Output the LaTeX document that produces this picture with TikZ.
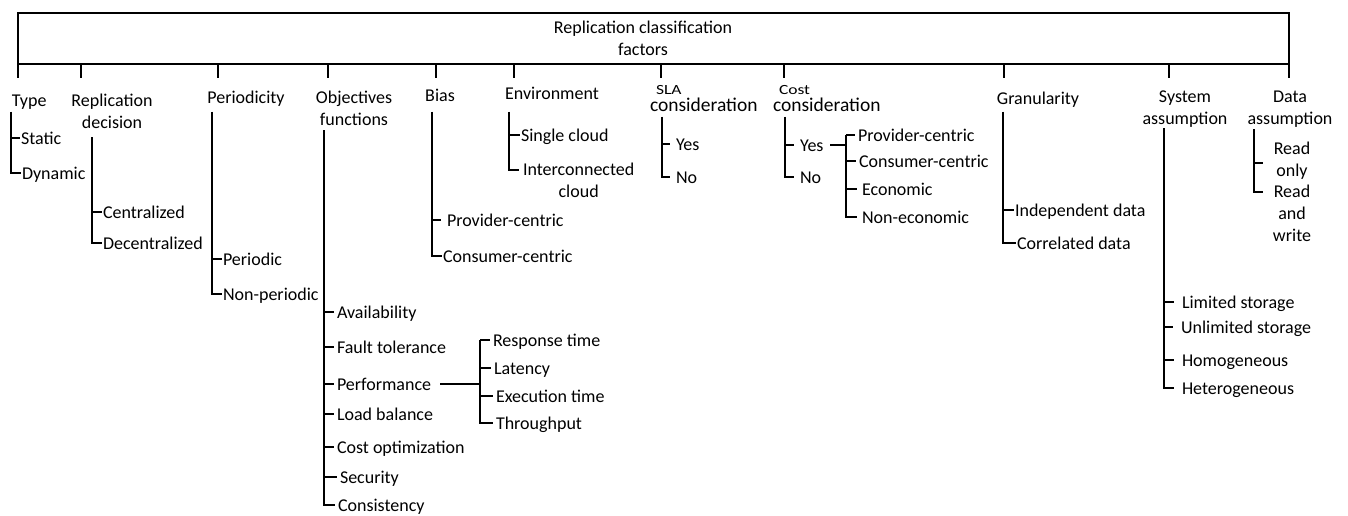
\documentclass[tikz,border=0pt]{standalone}
\usepackage{fontspec}
\usepackage{graphicx}
\setmainfont{Carlito}
\usetikzlibrary{calc}
\newcommand{\wideword}[1]{\scalebox{1.25}[1]{#1}}
\begin{document}
\begin{tikzpicture}[x=1pt,y=-1pt,
  every node/.style={inner sep=0pt, outer sep=0pt, font=\fontsize{18}{22}\selectfont},
  item/.style={anchor=west, text height=13pt, text depth=0pt},
  hd/.style={anchor=center, text height=13pt, text depth=0pt},
  hdr/.style={align=center},
  ln/.style={line width=1.8pt, shorten >=1.5pt},
  gap/.style={shorten >=6pt},
  tk/.style={line width=1.8pt},
  smallword/.style={anchor=base west, font=\fontsize{14}{14}\selectfont},
  bigword/.style={anchor=base west, font=\fontsize{19.5}{20}\selectfont}]
\fill[white] (0,0) rectangle (1348,516);
\useasboundingbox (0,0) rectangle (1348,516);

% root box
\node[draw, line width=1.2pt, minimum width=1271pt, minimum height=51pt, anchor=north west] (root) at (18,13) {};
\draw[line width=2.4pt] (root.south west) -- (root.south east);
\node[hdr] (title) at (643,38.5) {Replication classification\\factors};

% ticks below the box
\foreach \i/\x in {1/18,2/81,3/218,4/328,5/436,6/514,7/661,8/784,9/1004,10/1169,11/1289}{
  \coordinate (kt\i) at (\x,64);
  \coordinate (kb\i) at (\x,78);
  \draw[tk] (kt\i) -- (kb\i);
}

% headers
\node[item] (typeh) at (12,100) {Type};
\node[hdr] (reph) at (112,111.5) {Replication\\decision};
\node[hd] (perh) at (246,97) {Periodicity};
\node[hdr] (objh) at (354,108.5) {Objectives\\functions};
\node[hd] (biash) at (440,95) {Bias};
\node[hd] (envh) at (552,93) {Environment};
\node[smallword] (slas) at (656,95) {\wideword{SLA}};
\node[bigword] (slah) at (650,111) {consideration};
\node[smallword] (costs) at (779,95) {\wideword{Cost}};
\node[bigword] (costh) at (773,111) {consideration};
\node[hd] (granh) at (1038,98) {Granularity};
\node[hdr] (sysh) at (1185,109) {System\\assumption};
\node[hdr] (datah) at (1290,109) {Data\\assumption};

% Type
\node[item] (static) at (21,138) {Static};
\node[item] (dyn) at (22,173) {Dynamic};
\coordinate (vtype) at (11,112);
\draw[ln] (vtype) |- (static.west);
\draw[ln] (vtype) |- (dyn.west);

% Replication decision
\node[item] (cen) at (103,212) {Centralized};
\node[item] (dec) at (103,243) {Decentralized};
\coordinate (vrep) at (92,137);
\draw[ln] (vrep) |- (cen.west);
\draw[ln] (vrep) |- (dec.west);

% Periodicity
\node[item] (per) at (223,259) {Periodic};
\node[item] (nper) at (223,294) {Non-periodic};
\coordinate (vper) at (212,112);
\draw[ln] (vper) |- (per.west);
\draw[ln] (vper) |- (nper.west);

% Objectives functions
\node[item] (avail) at (337,312) {Availability};
\node[item] (fault) at (337,347) {Fault tolerance};
\node[item] (perf) at (337,384) {Performance};
\node[item] (load) at (337,414) {Load balance};
\node[item] (costo) at (337,447) {Cost optimization};
\node[item] (sec) at (340,477) {Security};
\node[item] (cons) at (338,505) {Consistency};
\coordinate (vobj) at (324,130);
\foreach \n in {avail,fault,perf,load,costo,sec,cons}{
  \draw[ln, shorten >=3pt] (vobj) |- (\n.west);
}

% Performance sub-items
\node[item] (resp) at (493,340) {Response time};
\node[item] (lat) at (494,368) {Latency};
\node[item] (exec) at (496,396) {Execution time};
\node[item] (thr) at (496,423) {Throughput};
\coordinate (vperf) at (480,340);
\draw[ln, shorten >=0pt] ([xshift=9pt]perf.east) -- (perf.east -| vperf);
\draw[ln, shorten >=3pt] (vperf) -- (resp.west);
\draw[ln, shorten >=3pt] (vperf) |- (lat.west);
\draw[ln, shorten >=3pt] (vperf) |- (exec.west);
\draw[ln, shorten >=3pt] (vperf) |- (thr.west);

% Bias
\node[item] (bprov) at (447,220) {Provider-centric};
\node[item] (bcons) at (443,256) {Consumer-centric};
\coordinate (vbias) at (432,112);
\draw[ln, gap] (vbias) |- (bprov.west);
\draw[ln] (vbias) |- (bcons.west);

% Environment
\node[item] (single) at (521,135) {Single cloud};
\node[hdr, anchor=north west] (inter) at (523,163) {Interconnected\\cloud};
\coordinate (venv) at (509,112);
\draw[ln] (venv) |- (single.west);
\draw[ln, shorten >=4pt] (venv) |- ($(inter.north west)+(0,7)$);

% SLA consideration
\node[item] (slay) at (676,144) {Yes};
\node[item] (slan) at (676,177) {No};
\coordinate (vsla) at (662,117);
\draw[ln, gap] (vsla) |- (slay.west);
\draw[ln, gap] (vsla) |- (slan.west);

% Cost consideration
\node[item] (costy) at (800,145) {Yes};
\node[item] (costn) at (800,177) {No};
\coordinate (vcost) at (785,117);
\draw[ln, gap] (vcost) |- (costy.west);
\draw[ln, gap] (vcost) |- (costn.west);

\node[item] (cprov) at (858,135) {Provider-centric};
\node[item] (ccons) at (859,161) {Consumer-centric};
\node[item] (cecon) at (862,189) {Economic};
\node[item] (cnon) at (862,217) {Non-economic};
\coordinate (vcy) at (846,135);
\draw[ln, shorten >=0pt] ([xshift=7pt]costy.east) -- (costy.east -| vcy);
\draw[ln, shorten >=3pt] (vcy) -- (cprov.west);
\draw[ln, shorten >=3pt] (vcy) |- (ccons.west);
\draw[ln, shorten >=5pt] (vcy) |- (cecon.west);
\draw[ln, shorten >=5pt] (vcy) |- (cnon.west);

% Granularity
\node[item] (indep) at (1015,210) {Independent data};
\node[item] (corr) at (1017,243) {Correlated data};
\coordinate (vgran) at (1003,112);
\draw[ln] (vgran) |- (indep.west);
\draw[ln] (vgran) |- (corr.west);

% System assumption
\node[item] (lim) at (1182,302) {Limited storage};
\node[item] (unlim) at (1181,327) {Unlimited storage};
\node[item] (homo) at (1182,360) {Homogeneous};
\node[item] (hete) at (1182,388) {Heterogeneous};
\coordinate (vsys) at (1164,128);
\foreach \n in {lim,unlim,homo,hete}{
  \draw[ln, shorten >=8pt] (vsys) |- (\n.west);
}

% Data assumption
\node[hdr] (ronly) at (1292,161) {Read\\only};
\node[hdr, anchor=north] (rw) at (1292,185) {Read\\and\\write};
\coordinate (vdata) at (1254,129);
\coordinate (rot) at (1263,163);
\coordinate (rwt) at (1263,192);
\draw[ln, shorten >=0pt] (vdata) |- (rot);
\draw[ln, shorten >=0pt] (vdata) |- (rwt);
\end{tikzpicture}
\end{document}
